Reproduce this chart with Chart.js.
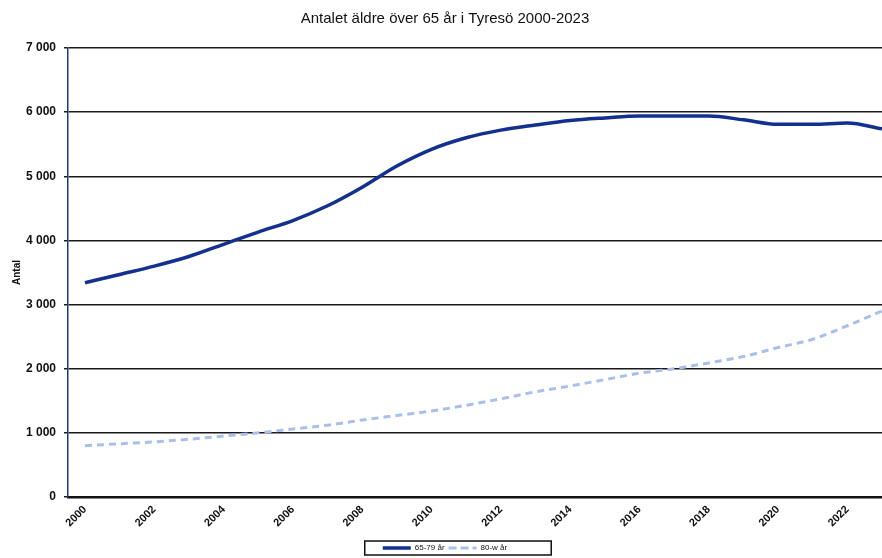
<!DOCTYPE html>
<html>
<head>
<meta charset="utf-8">
<script src="https://cdn.jsdelivr.net/npm/chart.js@4"></script>
<style>
  html, body { margin: 0; padding: 0; background: #fff; overflow: hidden; }
  #wrap { width: 882px; height: 558px; }
</style>
</head>
<body>
<div id="wrap"><canvas id="chartTyreso"></canvas></div>
<script>
// Data
const years = [2000, 2001, 2002, 2003, 2004, 2005, 2006, 2007, 2008, 2009, 2010, 2011,
               2012, 2013, 2014, 2015, 2016, 2017, 2018, 2019, 2020, 2021, 2022, 2023];
const age65to79 = [3340, 3470, 3600, 3750, 3940, 4130, 4310, 4540, 4830, 5160, 5420, 5600,
                   5720, 5800, 5870, 5910, 5940, 5940, 5940, 5880, 5810, 5810, 5830, 5740];
const age80plus = [800, 830, 860, 900, 950, 1000, 1060, 1120, 1200, 1270, 1340, 1430,
                   1530, 1640, 1730, 1830, 1930, 2000, 2090, 2190, 2330, 2460, 2670, 2900];
const xTickYears = [2000, 2002, 2004, 2006, 2008, 2010, 2012, 2014, 2016, 2018, 2020, 2022];
const yTicks = [0, 1000, 2000, 3000, 4000, 5000, 6000, 7000];

const toPoints = vals => years.map((y, i) => ({ x: y, y: vals[i] }));
const fmt = v => String(v).replace(/\B(?=(\d{3})+(?!\d))/g, ' ');
const fontFam = '"Liberation Sans", Arial, sans-serif';

// Ram runt förklaringen
const legendFrame = {
  id: 'legendFrame',
  afterDraw(chart) {
    const boxes = chart.legend.legendHitBoxes;
    if (!boxes || !boxes.length) return;
    const left = Math.min(...boxes.map(b => b.left)) - 18;
    const right = Math.max(...boxes.map(b => b.left + b.width)) + 44;
    const top = Math.min(...boxes.map(b => b.top)) - 3;
    const bottom = Math.max(...boxes.map(b => b.top + b.height)) + 3;
    const ctx = chart.ctx;
    ctx.save();
    ctx.strokeStyle = '#111';
    ctx.lineWidth = 1.5;
    ctx.strokeRect(left, top, right - left, bottom - top);
    ctx.restore();
  }
};

const ctx = document.getElementById('chartTyreso').getContext('2d');
new Chart(ctx, {
  type: 'line',
  data: {
    datasets: [{
      label: '65-79 år',
      data: toPoints(age65to79),
      borderColor: '#13308e',
      backgroundColor: '#13308e',
      borderWidth: 3.5,
      pointRadius: 0,
      cubicInterpolationMode: 'monotone'
    }, {
      label: '80-w år',
      data: toPoints(age80plus),
      borderColor: '#a9c0ea',
      backgroundColor: '#a9c0ea',
      borderWidth: 3,
      borderDash: [7, 5],
      pointRadius: 0,
      cubicInterpolationMode: 'monotone'
    }]
  },
  options: {
    responsive: true,
    maintainAspectRatio: false,
    animation: false,
    layout: { padding: { left: 8, right: 0, top: 0, bottom: -4 } },
    plugins: {
      title: {
        display: true,
        text: 'Antalet äldre över 65 år i Tyresö 2000-2023',
        color: '#111',
        font: { family: fontFam, size: 15, weight: 'normal' },
        padding: { top: 10, bottom: 20 }
      },
      legend: {
        position: 'bottom',
        labels: {
          color: '#111',
          font: { family: fontFam, size: 8 },
          boxWidth: 28,
          boxHeight: 0,
          padding: 4
        }
      },
      tooltip: { enabled: false }
    },
    scales: {
      x: {
        type: 'linear',
        min: 1999.51,
        max: 2023,
        afterBuildTicks: s => { s.ticks = xTickYears.map(v => ({ value: v })); },
        afterFit: s => { s.height = 43; },
        grid: { drawOnChartArea: false, drawTicks: false },
        border: { display: true, color: '#111', width: 2.5 },
        ticks: {
          minRotation: 45,
          maxRotation: 45,
          color: '#111',
          padding: 6,
          font: { family: fontFam, size: 11, weight: 'bold' },
          callback: v => String(v)
        }
      },
      y: {
        min: 0,
        max: 7000,
        afterBuildTicks: s => { s.ticks = yTicks.map(v => ({ value: v })); },
        afterFit: s => { s.width = 60; },
        grid: { color: '#1a1a1a', lineWidth: 1.5, tickLength: 4 },
        border: { display: true, color: '#1f3a78', width: 1.5 },
        ticks: {
          color: '#111',
          padding: 8,
          font: { family: fontFam, size: 12, weight: 'bold' },
          callback: v => fmt(v)
        },
        title: {
          display: true,
          text: 'Antal',
          color: '#111',
          font: { family: fontFam, size: 10, weight: 'bold' },
          padding: { top: 3, bottom: 0 }
        }
      }
    }
  },
  plugins: [legendFrame]
});
</script>
</body>
</html>
